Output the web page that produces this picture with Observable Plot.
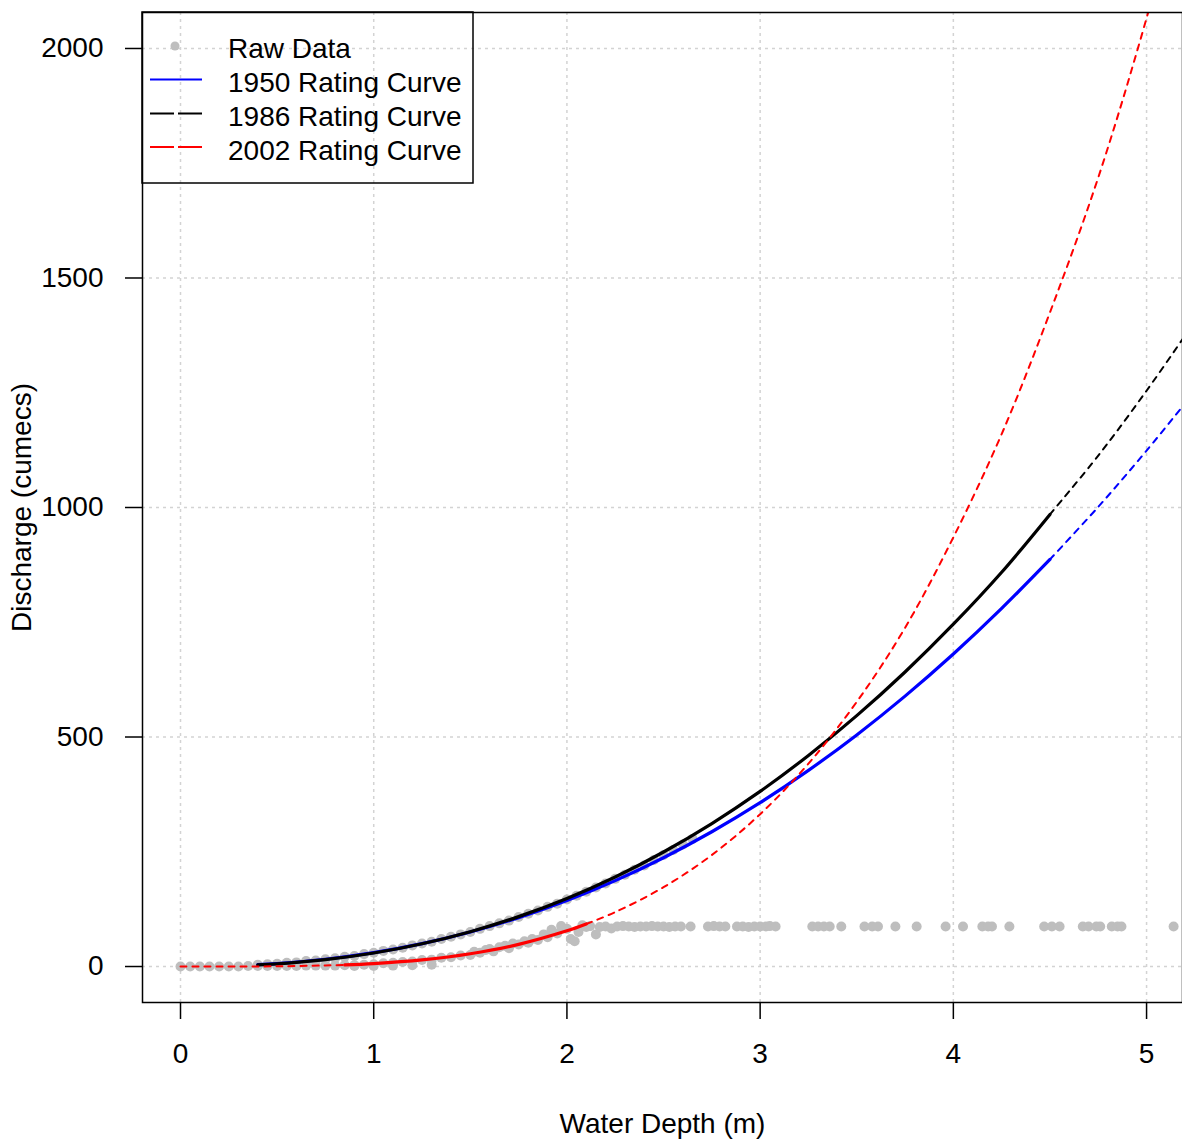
<!DOCTYPE html>
<html>
<head>
<meta charset="utf-8">
<script src="https://cdn.jsdelivr.net/npm/d3@7"></script>
<script src="https://cdn.jsdelivr.net/npm/@observablehq/plot@0.6"></script>
<style>
  html, body { margin: 0; padding: 0; background: white; }
  #wrap { position: relative; width: 1182px; height: 1144px; }
  #legend { position: absolute; }
</style>
</head>
<body>
<div id="wrap"></div>
<script>
// ---------- data ----------
const xTicks = [0, 1, 2, 3, 4, 5];
const yTicks = [0, 500, 1000, 1500, 2000];

// 1950 rating curve
const depth1950 = [0.4, 0.5, 0.75, 1, 1.25, 1.5, 1.75, 2, 2.25, 2.5, 2.75, 3, 3.25, 3.5, 3.75, 4, 4.25, 4.5, 4.75, 5, 5.25];
const q1950     = [3.9, 6.4, 15.9, 30.3, 50, 75.3, 106.4, 143.6, 187.1, 237, 293.6, 356.9, 427.3, 504.5, 589.1, 680.9, 780.2, 886.9, 1001.4, 1123.9, 1253.8];
const range1950 = [0.4, 4.5];

// 1986 rating curve
const depth1986 = [0.4, 0.5, 0.75, 1, 1.25, 1.5, 1.75, 2, 2.25, 2.5, 2.75, 3, 3.25, 3.5, 3.75, 4, 4.25, 4.5, 4.75, 5, 5.25];
const q1986     = [3.5, 5.9, 15.1, 29.5, 49.6, 75.9, 108.7, 148.3, 195.1, 249.5, 311.5, 381.5, 459.8, 546.5, 641.7, 745.8, 859, 985, 1113.1, 1254.4, 1405.6];
const range1986 = [0.4, 4.5];

// 2002 rating curve
const depth2002 = [0, 0.25, 0.5, 0.75, 0.85, 1, 1.25, 1.5, 1.75, 2, 2.1, 2.25, 2.5, 2.75, 3, 3.25, 3.5, 3.75, 4, 4.25, 4.5, 4.75, 5, 5.25];
const q2002     = [0, 0.05, 0.5, 2.3, 3.6, 6.5, 14.5, 27.8, 48.2, 77.7, 92.6, 118.5, 172.8, 243, 331.9, 442, 576.5, 737.9, 935, 1160, 1425, 1719, 2066, 2461];
const range2002 = [0.85, 2.1];

// raw data: along the older curves
const rawDepthA = [0.40,0.45,0.50,0.55,0.60,0.65,0.70,0.75,0.80,0.85,0.90,0.95,1.00,1.05,1.10,1.15,1.20,1.25,1.30,1.35,1.40,1.45,1.50,1.55,1.60,1.65,1.70,1.75,1.80,1.85,1.90,1.95,2.00,2.05,2.10,2.15,2.20,2.25,2.30,2.35,2.40,2.45,2.50,2.55,2.60,2.65];
const rawQA     = [4,5,6,8,9,12,13,16,18,21,23,27,30,34,37,41,46,50,54,60,65,70,75,82,88,94,100,108,115,122,130,137,146,154,163,172,181,191,200,211,220,232,243,254,266,278];
// raw data: along the 2002 curve
const rawDepthB = [0.00,0.05,0.10,0.15,0.20,0.25,0.30,0.35,0.40,0.45,0.50,0.55,0.60,0.65,0.70,0.75,0.80,0.85,0.90,0.95,1.00,1.05,1.10,1.15,1.20,1.25,1.30,1.35,1.40,1.45,0.90,1.00,1.10,1.20,1.30,1.50,1.52,1.55,1.58,1.60,1.62,1.65,1.68,1.70,1.72,1.75,1.78,1.80,1.82,1.85,1.88,1.90,1.92,1.95,1.97,2.00,2.02,2.04,2.06,2.08,2.10,2.12,2.15];
const rawQB     = [0,0,0,0,0,0,0,1,1,1,1,1,1,2,2,2,2,3,3,4,5,7,8,10,11,14,15,19,20,24,1,1,2,3,4,25,32,30,36,38,33,42,45,40,50,48,55,52,60,58,70,64,80,72,88,82,60,55,75,90,86,88,70];
// raw data: flat readings
const rawDepthC = [2.17,2.20,2.23,2.26,2.29,2.32,2.35,2.38,2.41,2.44,2.47,2.50,2.53,2.56,2.59,2.64,2.73,2.76,2.79,2.82,2.88,2.91,2.94,2.97,3.00,3.03,3.05,3.08,3.27,3.30,3.33,3.36,3.42,3.54,3.58,3.61,3.70,3.81,3.96,4.05,4.15,4.18,4.20,4.29,4.47,4.51,4.55,4.67,4.70,4.74,4.76,4.82,4.85,4.87,5.14];
const rawQC     = [86,87,83,87,88,87,86,87,87,88,87,87,86,87,87,87,87,88,87,87,87,87,86,87,87,87,88,87,87,87,87,87,87,87,87,87,87,87,87,87,87,87,87,87,87,87,87,87,87,87,87,87,87,87,87];

// ---------- build tables ----------
const raw = [
  ...rawDepthA.map((h, i) => ({h, q: rawQA[i]})),
  ...rawDepthB.map((h, i) => ({h, q: rawQB[i]})),
  ...rawDepthC.map((h, i) => ({h, q: rawQC[i]}))
];
function table(depths, qs) { return depths.map((h, i) => ({h, q: qs[i]})); }
const series = [
  {name: "1950", color: "#0000ff", rows: table(depth1950, q1950), range: range1950},
  {name: "1986", color: "#000000", rows: table(depth1986, q1986), range: range1986},
  {name: "2002", color: "#ff0000", rows: table(depth2002, q2002), range: range2002}
];

const curveMarks = [];
for (const s of series) {
  const [lo, hi] = s.range;
  const solid = s.rows.filter(d => d.h >= lo && d.h <= hi);
  const below = s.rows.filter(d => d.h <= lo);
  const above = s.rows.filter(d => d.h >= hi);
  const common = {x: "h", y: "q", stroke: s.color, curve: "catmull-rom", clip: true};
  if (below.length > 1) curveMarks.push(Plot.line(below, {...common, strokeWidth: 2, strokeDasharray: "6,6"}));
  if (above.length > 1) curveMarks.push(Plot.line(above, {...common, strokeWidth: 2, strokeDasharray: "6,6"}));
  curveMarks.push(Plot.line(solid, {...common, strokeWidth: 3.2}));
}

const mL = 142, mR = 0, mT = 12, mB = 142;

const chart = Plot.plot({
  width: 1182,
  height: 1144,
  marginLeft: mL, marginRight: mR, marginTop: mT, marginBottom: mB,
  x: {domain: [-0.1967, 5.186]},
  y: {domain: [-78.4, 2078.4]},
  style: {fontFamily: "'Liberation Sans', Arial, sans-serif", fontSize: "28px", background: "white", color: "black"},
  marks: [
    Plot.gridX({ticks: xTicks, stroke: "#d3d3d3", strokeOpacity: 1, strokeWidth: 1.5, strokeDasharray: "3,4"}),
    Plot.gridY({ticks: yTicks, stroke: "#d3d3d3", strokeOpacity: 1, strokeWidth: 1.5, strokeDasharray: "3,4"}),
    Plot.dot(raw, {x: "h", y: "q", r: 5, fill: "#bebebe", stroke: null, clip: true}),
    ...curveMarks,
    Plot.frame({stroke: "black", strokeWidth: 1.5}),
    Plot.axisX({ticks: xTicks, tickSize: 17, tickPadding: 24, strokeWidth: 1.5, fontSize: 28, tickFormat: d => String(d), label: null}),
    Plot.axisY({ticks: yTicks, tickSize: 17, tickPadding: 22, strokeWidth: 1.5, fontSize: 28, tickFormat: d => String(d), label: null}),
    Plot.text(["Water Depth (m)"], {text: d => d, frameAnchor: "bottom", dy: 122, lineAnchor: "middle", textAnchor: "middle", fontSize: 28, fill: "black"}),
    Plot.text(["Discharge (cumecs)"], {text: d => d, frameAnchor: "left", dx: -120, rotate: -90, lineAnchor: "middle", textAnchor: "middle", fontSize: 28, fill: "black"})
  ]
});

const wrap = document.getElementById("wrap");
wrap.appendChild(chart);

// ---------- legend (inside plot, top-left) ----------
const legendItems = [
  {label: "Raw Data", kind: "dot", color: "#bebebe"},
  {label: "1950 Rating Curve", kind: "line", color: "#0000ff", dash: null},
  {label: "1986 Rating Curve", kind: "line", color: "#000000", dash: "24,4"},
  {label: "2002 Rating Curve", kind: "line", color: "#ff0000", dash: "24,4"}
];
const lw = 331, lh = 171;
const leg = d3.create("svg")
  .attr("id", "legend")
  .attr("width", lw + 2).attr("height", lh + 2)
  .style("left", (mL - 1) + "px").style("top", (mT - 1) + "px")
  .style("font-family", "'Liberation Sans', Arial, sans-serif")
  .style("font-size", "28px");
leg.append("rect").attr("x", 1).attr("y", 1).attr("width", lw).attr("height", lh)
  .attr("fill", "none").attr("stroke", "black").attr("stroke-width", 1.5);
const rowsY = [36, 70.5, 104.5, 138];
legendItems.forEach((it, i) => {
  const y = rowsY[i] + 1;
  if (it.kind === "dot") {
    leg.append("circle").attr("cx", 34).attr("cy", y - 2).attr("r", 4.5).attr("fill", it.color);
  } else {
    leg.append("line").attr("x1", 9).attr("x2", 61).attr("y1", y - 3).attr("y2", y - 3)
      .attr("stroke", it.color).attr("stroke-width", 2)
      .attr("stroke-dasharray", it.dash);
  }
  leg.append("text").attr("x", 87).attr("y", y).attr("dominant-baseline", "central")
    .attr("fill", "black").text(it.label);
});
wrap.appendChild(leg.node());
</script>
</body>
</html>
